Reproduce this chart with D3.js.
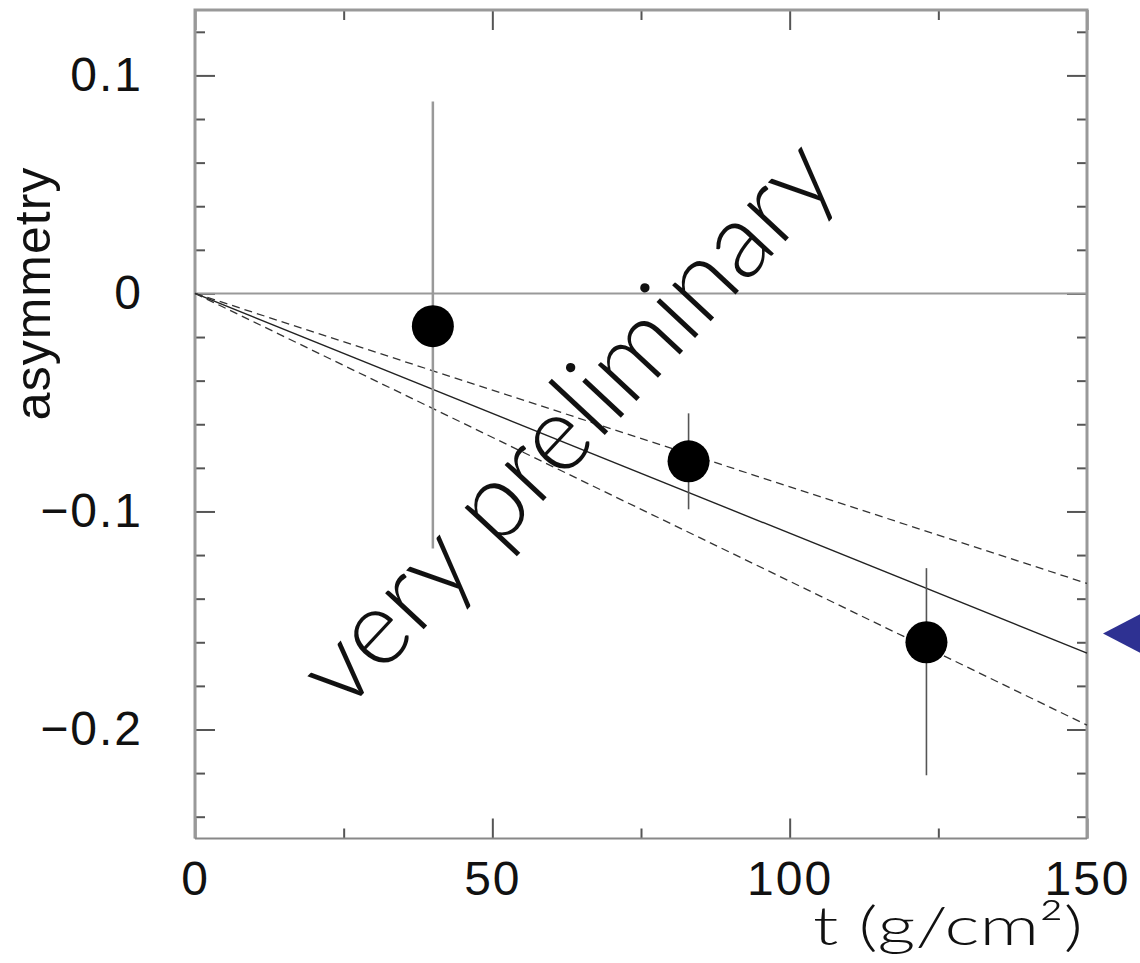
<!DOCTYPE html>
<meta charset="utf-8">
<style>
body { margin: 0; background: #fff; }
.tick text { font-family: "Liberation Sans", Arial, sans-serif; fill: #111; }
.tick line { stroke: #555; stroke-width: 2; }
</style>
<svg width="1140" height="963"></svg>
<script src="https://d3js.org/d3.v7.min.js"></script>
<script>

// data
var thickness = [40, 83, 123];
var asym = [-0.015, -0.077, -0.160];
var errLo = [-0.117, -0.099, -0.221];
var errHi = [0.088, -0.055, -0.126];

// fitted slopes (value at t = 150)
var fitEnd = -0.165;
var bandEnds = [-0.133, -0.198];

var xMajor = [0, 50, 100, 150];
var xMinor = [25, 75, 125];
var yMajor = [-0.2, -0.1, 0, 0.1];
var yMinor = [-0.24, -0.22, -0.18, -0.16, -0.14, -0.12, -0.08, -0.06, -0.04, -0.02,
              0.02, 0.04, 0.06, 0.08, 0.12];

var markerLevel = -0.156;

var svg = d3.select("svg"),
    pLeft = 195, pRight = 1087, pTop = 10, pBottom = 838.5;

var x = d3.scaleLinear().domain([0, 150]).range([pLeft, pRight]);
var y = d3.scaleLinear().domain([-0.25, 0.13]).range([pBottom, pTop]);

var fmt = function(d) { return d === 0 ? "0" : d3.format(".1f")(d); };

// axes with inward ticks
var gl = svg.append("g").attr("transform", "translate(" + pLeft + ",0)")
    .call(d3.axisLeft(y).tickValues(yMajor).tickSize(-20).tickPadding(52).tickFormat(fmt));
gl.selectAll("text").style("font-size", "48px").style("letter-spacing", "2px");
svg.append("g").attr("transform", "translate(" + pLeft + ",0)")
    .call(d3.axisLeft(y).tickValues(yMinor).tickSize(-10).tickFormat(""));
svg.append("g").attr("transform", "translate(" + pRight + ",0)")
    .call(d3.axisRight(y).tickValues(yMajor).tickSize(-20).tickFormat(""));
svg.append("g").attr("transform", "translate(" + pRight + ",0)")
    .call(d3.axisRight(y).tickValues(yMinor).tickSize(-10).tickFormat(""));

var gb = svg.append("g").attr("transform", "translate(0," + pBottom + ")")
    .call(d3.axisBottom(x).tickValues(xMajor).tickSize(-20).tickPadding(22).tickFormat(d3.format("d")));
gb.selectAll("text").style("font-size", "48px").style("letter-spacing", "2px");
svg.append("g").attr("transform", "translate(0," + pBottom + ")")
    .call(d3.axisBottom(x).tickValues(xMinor).tickSize(-10).tickFormat(""));
svg.append("g").attr("transform", "translate(0," + pTop + ")")
    .call(d3.axisTop(x).tickValues(xMajor).tickSize(-20).tickFormat(""));
svg.append("g").attr("transform", "translate(0," + pTop + ")")
    .call(d3.axisTop(x).tickValues(xMinor).tickSize(-10).tickFormat(""));

svg.selectAll(".domain").remove();

// frame
svg.append("path")
    .attr("d", "M" + pLeft + "," + pBottom + "V" + pTop + "H" + pRight + "V" + pBottom)
    .attr("fill", "none").attr("stroke", "#999").attr("stroke-width", 3);
svg.append("line")
    .attr("x1", pLeft).attr("x2", pRight).attr("y1", pBottom).attr("y2", pBottom)
    .attr("stroke", "#888").attr("stroke-width", 2);

// zero line
svg.append("line")
    .attr("x1", x(0)).attr("x2", x(150)).attr("y1", y(0)).attr("y2", y(0))
    .attr("stroke", "#999").attr("stroke-width", 2);

// fit lines
svg.append("line")
    .attr("x1", x(0)).attr("y1", y(0)).attr("x2", x(150)).attr("y2", y(fitEnd))
    .attr("stroke", "#222").attr("stroke-width", 1.4);
svg.selectAll(".band").data(bandEnds).enter().append("line")
    .attr("class", "band")
    .attr("x1", x(0)).attr("y1", y(0))
    .attr("x2", x(150)).attr("y2", function(d) { return y(d); })
    .attr("stroke", "#333").attr("stroke-width", 1.3)
    .attr("stroke-dasharray", "8,5");

// error bars and points
var pts = thickness.map(function(t, i) {
  return { t: t, a: asym[i], lo: errLo[i], hi: errHi[i] };
});
svg.selectAll(".err").data(pts).enter().append("line")
    .attr("class", "err")
    .attr("x1", function(d) { return x(d.t); }).attr("x2", function(d) { return x(d.t); })
    .attr("y1", function(d) { return y(d.lo); }).attr("y2", function(d) { return y(d.hi); })
    .attr("stroke", function(d, i) { return i === 0 ? "#999" : "#555"; })
    .attr("stroke-width", function(d, i) { return i === 0 ? 2.5 : 1.6; });
svg.selectAll(".pt").data(pts).enter().append("circle")
    .attr("class", "pt")
    .attr("cx", function(d) { return x(d.t); })
    .attr("cy", function(d) { return y(d.a); })
    .attr("r", 21)
    .attr("fill", "#000");

// watermark text
svg.append("text")
    .attr("transform", "translate(572,428) rotate(-47)")
    .attr("text-anchor", "middle")
    .attr("dy", "0.27em")
    .style("font-family", "Lato, 'DejaVu Sans', sans-serif")
    .style("font-weight", 300)
    .style("font-size", "106px")
    .attr("fill", "#111")
    .text("very preliminary");

// axis titles
svg.append("text")
    .attr("transform", "translate(50," + y(0) + ") rotate(-90)")
    .attr("text-anchor", "middle")
    .style("font-family", "Liberation Sans, Arial, sans-serif")
    .style("font-size", "50px")
    .style("letter-spacing", "1px")
    .attr("fill", "#111")
    .text("asymmetry");

svg.append("text")
    .attr("x", 813).attr("y", 945)
    .attr("textLength", 270)
    .attr("lengthAdjust", "spacingAndGlyphs")
    .style("font-family", "Lato, 'Liberation Sans', sans-serif")
    .style("font-weight", 300)
    .style("font-size", "54px")
    .attr("fill", "#111")
    .text("t (g/cm\u00b2)");

// blue marker pointing at the fit value
var my = y(markerLevel);
svg.append("path")
    .attr("d", "M1103," + my + "L1180," + (my - 40) + "L1180," + (my + 40) + "Z")
    .attr("fill", "#2e3192");

</script>
